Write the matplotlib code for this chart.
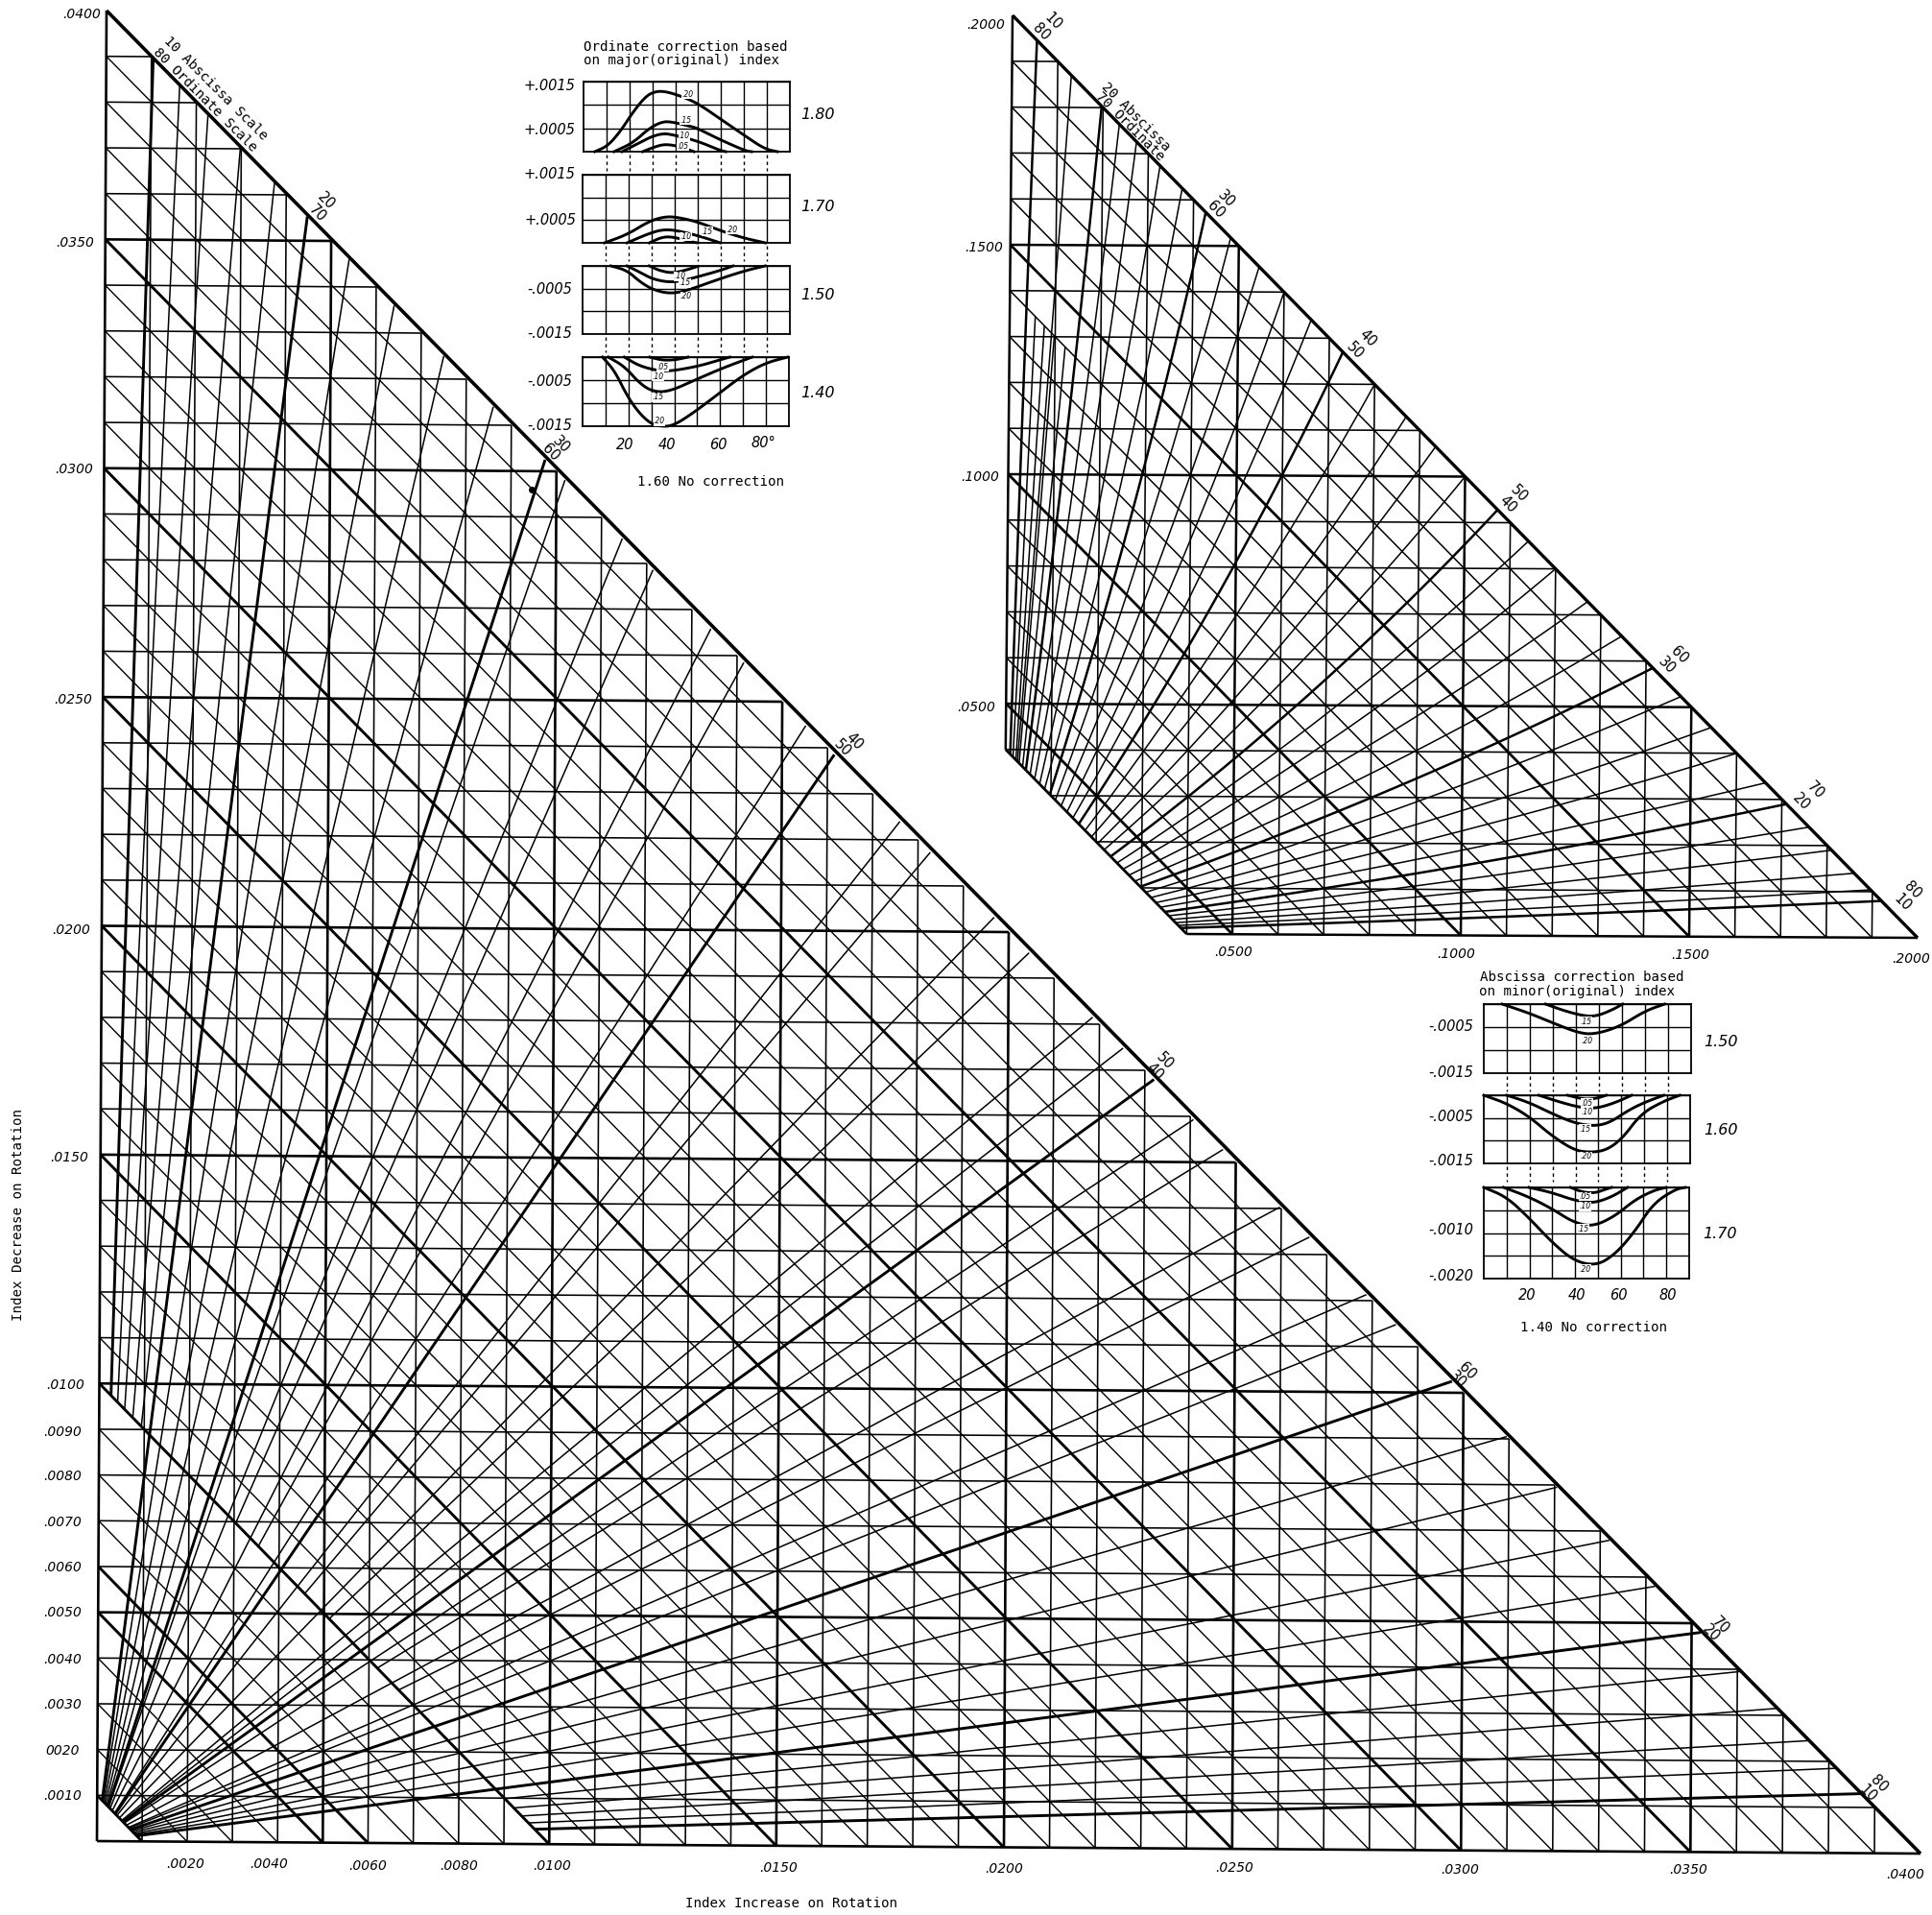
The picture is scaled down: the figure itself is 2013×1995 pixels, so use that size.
#!/usr/bin/env python3
"""Nomograms of index change on rotation, with correction curves, redrawn from a scan."""
import numpy as np
import matplotlib
matplotlib.use("Agg")
import matplotlib.pyplot as plt
from matplotlib.transforms import Transform

W, H = 2013, 1995
MONO = "DejaVu Sans Mono"

# large chart, values in units of .001
BIG_SPAN = 40
BIG_HEAVY_DIAG = [1, 5, 6, 10, 15, 20, 25, 30, 35, 40]
BIG_RAY_ANGLE = [10, 12, 14, 16, 18, 20, 22, 24, 26, 28, 30, 31, 33, 34, 36, 37, 39, 40,
                 41, 42, 44, 45, 47, 48, 50, 51, 52, 54, 55, 57, 58, 60, 62, 64, 66, 68, 70,
                 72, 74, 76, 78, 80]
BIG_RAY_END_X = [1.04, 1.63, 2.26, 2.98, 3.74, 4.47, 5.4, 6.4, 7.5, 8.6, 9.75, 10.19, 11.46,
                 12.14, 13.42, 14.15, 15.52, 16.15, 17.6, 18.27, 19.68, 20.45, 21.85, 22.52,
                 23.2, 24.07, 24.72, 25.97, 26.62, 27.87, 28.52, 29.75, 30.95, 32.05, 33.2, 34.2, 35.2,
                 36.05, 36.85, 37.55, 38.15, 38.7]
BIG_RAY_START = [10, 10, 10, 10, 10, 1, 1, 1, 1, 1, 1, 1, 1, 10, 1, 10, 1, 1, 1, 10, 1, 10, 1, 1,
                 1, 1, 10, 1, 10, 1, 1, 1, 1, 1, 1, 1, 1, 10, 10, 10, 10, 10]

# small chart, values in units of .01
RIGHT_SPAN = 20
RIGHT_CUT = 4
RIGHT_HEAVY_DIAG = [4, 5, 10, 15, 20]
RIGHT_RAY_ANGLE = [10, 12, 14, 15, 16, 18, 20, 22, 24, 26, 28, 30, 32, 34, 36, 38, 40, 42, 44, 46,
                   48, 50, 52, 54, 56, 58, 60, 62, 64, 66, 68, 70, 72, 74, 76, 78, 80]
RIGHT_RAY_TOP = [20, 14, 14, 20, 14, 14, 20, 20, 20, 20, 20, 20, 20, 20, 20, 20, 20, 20, 20, 20,
                 20, 20, 20, 20, 20, 20, 20, 20, 20, 20, 20, 20, 20, 20, 20, 20, 20]
RIGHT_X_START = [.10, .163, .226, .26, .298, .374, .447, .54, .64, .75, .86, .975, 1.098, 1.225,
                 1.355, 1.485, 1.615, 1.755, 1.895, 2.035, 2.175, 2.32, 2.46, 2.595, 2.725,
                 2.855, 2.975, 3.095, 3.21, 3.32, 3.42, 3.52, 3.605, 3.685, 3.755, 3.815, 3.87]
RIGHT_X_MID = [.31, .364, .49, .79, .645, .81, 1.26, 1.52, 1.78, 2.10, 2.42, 2.74, 3.09, 3.47,
               3.83, 4.21, 4.61, 5.03, 5.45, 5.86, 6.26, 6.70, 7.11, 7.49, 7.90, 8.32, 8.71,
               9.07, 9.45, 9.78, 10.12, 10.41, 10.69, 10.96, 11.21, 11.41, 11.56]
RIGHT_X_END = [.54, .56, .76, 1.30, .98, 1.22, 1.97, 2.36, 2.74, 3.26, 3.75, 4.27, 4.82, 5.45,
               6.0, 6.6, 7.3, 8.0, 8.7, 9.35, 10.0, 10.72, 11.4, 12.0, 12.71, 13.46, 14.15,
               14.77, 15.44, 16.0, 16.64, 17.1, 17.6, 18.1, 18.6, 18.96, 19.2]

# correction curves: (degrees, correction) read per curve
P180 = {
    ".20": ([4.9, 10.5, 16, 21.6, 27.2, 31.4, 35.6, 41.9, 49.6, 59.4, 69.8, 78.9, 84.5],
            [0, .00012, .00043, .00085, .00119, .00129, .00129, .0012, .00104, .00071, .00036, .00006, 0]),
    ".15": ([13.3, 21.6, 28.6, 34.2, 38.4, 46.8, 49.6, 59.4, 70.5, 73.3],
            [0, .00019, .0005, .00064, .00064, .00054, .0005, .00026, .00002, 0]),
    ".10": ([16.8, 24.4, 30, 34.9, 39.1, 49.6, 59.4, 62],
            [0, .00019, .00033, .00039, .00036, .00023, .00003, 0]),
    ".05": ([25.8, 31.4, 35.6, 41.2, 48.2], [0, .00011, .00016, .00012, 0]),
}
P170 = {
    ".20": ([9.5, 19.3, 29, 36, 41.6, 50, 59.8, 69.6, 79.3],
            [0, .00018, .00048, .00058, .00056, .00046, .00027, .00011, 0]),
    ".15": ([19.3, 29, 34.6, 40.2, 50, 59.8], [0, .00021, .00029, .00028, .00016, 0]),
    ".10": ([29, 34.6, 39.5, 47.2, 50], [0, .00013, .00013, .00002, 0]),
}
P150 = {
    ".20": ([12.3, 19.3, 24.9, 30.4, 37.4, 44.4, 59.8, 71, 79.3],
            [0, -.0001, -.00035, -.00052, -.00061, -.00056, -.00028, -.0001, 0]),
    ".15": ([19.3, 24.9, 30.4, 37.4, 43, 50, 59.8, 65.4],
            [0, -.00014, -.00029, -.00036, -.00033, -.00024, -.0001, 0]),
    ".10": ([29, 33.2, 38.8, 44.4, 50], [0, -.0001, -.00016, -.0001, -.00001]),
}
P140 = {
    ".20": ([8.7, 14, 19.6, 25.1, 30, 33.5, 39.1, 47.5, 58.7, 69.8, 79.6, 89.4],
            [0, -.0003, -.00086, -.00124, -.00145, -.0015, -.0015, -.00124, -.00082, -.0004, -.00013, 0]),
    ".15": ([11.2, 18.2, 25.1, 30.7, 37.7, 50.3, 61.5, 74],
            [0, -.0002, -.00058, -.00075, -.00075, -.00047, -.00023, 0]),
    ".10": ([18.2, 25.1, 33.5, 39, 50.3, 60, 64.2], [0, -.0002, -.0003, -.0003, -.0002, -.00006, 0]),
    ".05": ([29.3, 34.9, 40.5, 46], [0, -.00007, -.00006, 0]),
}
A150 = {
    ".20": ([8, 19.8, 31, 40.8, 47.8, 59, 70, 78.5],
            [0, -.0002, -.00043, -.00062, -.00066, -.00049, -.00015, 0]),
    ".15": ([26.8, 35.2, 43.6, 49.2, 56, 60.3], [0, -.00015, -.00026, -.00026, -.00012, 0]),
}
A160 = {
    ".20": ([0, 10, 19.8, 29.6, 39.4, 46.4, 53.4, 60.3, 68.7, 78.5, 85.5],
            [0, -.00018, -.00047, -.00089, -.00121, -.00126, -.00121, -.00096, -.0004, -.00013, 0]),
    ".15": ([10, 19.8, 29.6, 39.4, 47.8, 54.7, 63.1, 70, 78.5],
            [0, -.00016, -.0004, -.00061, -.00068, -.00061, -.00033, -.00016, 0]),
    ".10": ([24, 33.8, 42.2, 49.2, 57.5, 64.5], [0, -.00016, -.00027, -.00029, -.00016, 0]),
    ".05": ([36.6, 43.6, 49.2, 53.4], [0, -.00009, -.00007, 0]),
}
A170 = {
    ".20": ([0, 10, 19.8, 29.6, 39.4, 49.2, 57.5, 66, 74.3, 84, 88.3],
            [0, -.00021, -.00067, -.00119, -.00161, -.00172, -.00147, -.00098, -.00035, -.00004, 0]),
    ".15": ([8.7, 19.8, 29.6, 39.4, 47.8, 57.5, 66, 74.3, 79.9],
            [0, -.00021, -.00046, -.00077, -.00086, -.00063, -.00028, -.00007, 0]),
    ".10": ([19.8, 29.6, 39.4, 47.8, 56, 63], [0, -.00011, -.00028, -.00035, -.00021, 0]),
    ".05": ([38, 43.6, 49, 53.4, 56], [0, -.00011, -.00012, -.00004, 0]),
}

# panel: left, right, top, bottom (pixels), y limits, curves, curve label spots
PANELS = [
    (608, 823, 85, 158, (0, .0015), P180,
     {".20": (45.4, .00122), ".15": (44.7, .00067), ".10": (44, .00033), ".05": (43.3, .00011)}),
    (607, 823, 182, 253, (0, .0015), P170,
     {".20": (64.7, .00029), ".15": (54.2, .00025), ".10": (44.8, .00014)}),
    (607, 823, 277, 348, (-.0015, 0), P150,
     {".10": (42.3, -.00023), ".15": (44.4, -.00038), ".20": (45, -.00067)}),
    (607, 822, 372, 444, (-.0015, 0), P140,
     {".05": (34.9, -.00022), ".10": (32.8, -.00042), ".15": (32.8, -.00087), ".20": (33.5, -.00139)}),
    (1546, 1762, 1046, 1118, (-.0015, 0), A150, {".15": (44.3, -.00038), ".20": (45, -.0008)}),
    (1546, 1761, 1141, 1212, (-.0015, 0), A160,
     {".05": (45, -.00017), ".10": (45, -.00038), ".15": (44.3, -.00074), ".20": (44.5, -.00135)}),
    (1546, 1760, 1237, 1332, (-.002, 0), A170,
     {".05": (44.3, -.0002), ".10": (44.3, -.00042), ".15": (43.6, -.00091), ".20": (44.3, -.00179)}),
]
PANEL_DASHED = [True, True, True, False, True, True, False]

LEFT_LABELS = [(".0400", 85, 15), (".0350", 78, 253), (".0300", 77, 489), (".0250", 76, 729),
               (".0200", 74, 969), (".0150", 72, 1206), (".0100", 68, 1443), (".0090", 65, 1492),
               (".0080", 65, 1538), (".0070", 65, 1586), (".0060", 65, 1633), (".0050", 65, 1680),
               (".0040", 65, 1729), (".0030", 65, 1776), ("0020", 65, 1824), (".0010", 65, 1871),
               (".2000", 1027, 26), (".1500", 1025, 258), (".1000", 1021, 497), (".0500", 1017, 737)]
BOTTOM_LABELS = [(".0020", 193, 1942), (".0040", 280, 1942), (".0060", 383, 1944), (".0080", 478, 1944),
                 (".0100", 575, 1944), (".0150", 811, 1946), (".0200", 1046, 1947), (".0250", 1286, 1946),
                 (".0300", 1521, 1948), (".0350", 1759, 1948), (".0400", 1985, 1953),
                 (".0500", 1285, 992), (".1000", 1517, 994), (".1500", 1761, 995), (".2000", 1991, 999)]
EDGE_LABELS = [("20", 340, 209), ("70", 331, 222), ("30", 585, 463), ("60", 574, 471),
               ("40", 890, 772), ("50", 878, 779), ("50", 1214, 1105), ("40", 1203, 1116),
               ("60", 1529, 1428), ("30", 1519, 1437), ("70", 1793, 1693), ("20", 1783, 1701),
               ("80", 1958, 1858), ("10", 1946, 1868),
               ("10", 1097, 22), ("80", 1085, 33), ("30", 1278, 207), ("60", 1267, 218),
               ("40", 1425, 352), ("50", 1412, 365), ("50", 1583, 514), ("40", 1571, 525),
               ("60", 1750, 682), ("30", 1737, 693), ("70", 1892, 823), ("20", 1877, 835),
               ("80", 1993, 927), ("10", 1982, 940)]
EDGE_TITLES = [("10 Abscissa Scale", 225, 92), ("80 Ordinate Scale", 214, 104),
               ("20 Abscissa", 1183, 122), ("70 Ordinate", 1177, 132)]
PANEL_TICKS = [("+.0015", 572, 89), ("+.0005", 572, 135), ("+.0015", 572, 182), ("+.0005", 573, 230),
               ("-.0005", 573, 302), ("-.0015", 573, 348), ("-.0005", 573, 397), ("-.0015", 573, 443),
               ("-.0005", 1512, 1070), ("-.0015", 1512, 1117), ("-.0005", 1512, 1163), ("-.0015", 1512, 1209),
               ("-.0010", 1512, 1282), ("-.0020", 1512, 1329),
               ("20", 651, 463), ("40", 695, 463), ("60", 748, 463), ("80°", 795, 461),
               ("20", 1591, 1349), ("40", 1643, 1349), ("60", 1686, 1349), ("80", 1738, 1349)]
PANEL_SIDE = [("1.80", 852, 120), ("1.70", 852, 215), ("1.50", 852, 307), ("1.40", 852, 410),
              ("1.50", 1793, 1085), ("1.60", 1793, 1177), ("1.70", 1792, 1285)]
NOTES = [("Ordinate correction based", 714, 49), ("on major(original) index", 710, 63),
         ("1.60 No correction", 740, 502), ("Abscissa correction based", 1648, 1018),
         ("on minor(original) index", 1643, 1033), ("1.40 No correction", 1660, 1383)]


class ScanWarp(Transform):
    """Chart units to scan pixels: the scan is a little sheared and bowed."""
    input_dims = 2
    output_dims = 2

    def __init__(self, origin, x_end, y_end, span, bow=0.0):
        super().__init__()
        self.origin = np.array(origin, float)
        self.ex = (np.array(x_end, float) - self.origin) / span
        self.ey = (np.array(y_end, float) - self.origin) / span
        self.span = span
        self.bow = bow

    def transform_non_affine(self, values):
        values = np.asarray(values, float)
        x, y = values[:, 0], values[:, 1]
        out = self.origin + np.outer(x, self.ex) + np.outer(y, self.ey)
        out[:, 0] -= self.bow * x * (self.span - x)
        return out


def round_corners(deg, val, passes=3):
    """Corner cutting so the read points draw as a pen curve, ends kept."""
    pts = np.column_stack([deg, val])
    for _ in range(passes):
        q = 0.75 * pts[:-1] + 0.25 * pts[1:]
        r = 0.25 * pts[:-1] + 0.75 * pts[1:]
        mid = np.empty((2 * len(q), 2))
        mid[0::2], mid[1::2] = q, r
        pts = np.vstack([pts[:1], mid, pts[-1:]])
    return pts[:, 0], pts[:, 1]


def draw_big(ax, warp):
    trans = warp + ax.transData
    kw = dict(color="black", transform=trans, solid_capstyle="butt")
    for k in range(BIG_SPAN):
        lw = 1.9 if k % 5 == 0 else 1.15
        ax.plot([0, BIG_SPAN - k], [k, k], lw=lw, **kw)
        ax.plot([k, k], [0, BIG_SPAN - k], lw=lw, **kw)
    for k in range(1, BIG_SPAN + 1):
        lw = 2.1 if k in BIG_HEAVY_DIAG else 1.0
        if k == BIG_SPAN:
            lw = 2.6
        ax.plot([0, k], [k, 0], lw=lw, **kw)
    for angle, end_x, start in zip(BIG_RAY_ANGLE, BIG_RAY_END_X, BIG_RAY_START):
        r = end_x / BIG_SPAN
        lw = 2.1 if angle % 10 == 0 else 1.1
        ax.plot([r * start, end_x], [start - r * start, BIG_SPAN - end_x], lw=lw, **kw)
    ax.plot([9.45], [29.6], "o", ms=4, color="black", transform=trans)


def draw_right(ax, warp):
    trans = warp + ax.transData
    kw = dict(color="black", transform=trans, solid_capstyle="butt")
    for k in range(RIGHT_SPAN):
        lw = 1.8 if k % 5 == 0 else 1.15
        low = max(0, RIGHT_CUT - k)
        ax.plot([low, RIGHT_SPAN - k], [k, k], lw=lw, **kw)
        ax.plot([k, k], [low, RIGHT_SPAN - k], lw=lw, **kw)
    for k in range(RIGHT_CUT, RIGHT_SPAN + 1):
        lw = 2.0 if k in RIGHT_HEAVY_DIAG else 1.1
        if k == RIGHT_SPAN:
            lw = 2.4
        ax.plot([0, k], [k, 0], lw=lw, **kw)
    for i, angle in enumerate(RIGHT_RAY_ANGLE):
        top = RIGHT_RAY_TOP[i]
        d_read = [RIGHT_CUT, (RIGHT_CUT + top) / 2, top]
        x_read = [RIGHT_X_START[i], RIGHT_X_MID[i], RIGHT_X_END[i]]
        coef = np.polyfit(d_read, x_read, 2)
        d = np.linspace(RIGHT_CUT, top, 30)
        x = np.polyval(coef, d)
        lw = 1.8 if angle % 10 == 0 else 1.1
        ax.plot(x, d - x, lw=lw, **kw)


def draw_panel(fig, spec, dashed):
    left, right, top, bottom, ylim, curves, spots = spec
    ax = fig.add_axes([left / W, 1 - bottom / H, (right - left) / W, (bottom - top) / H])
    ax.set_xlim(0, 90)
    ax.set_ylim(*ylim)
    ax.set_xticks(np.arange(10, 90, 10))
    ax.set_yticks(np.arange(ylim[0], ylim[1] + 1e-9, .0005))
    ax.grid(True, color="black", lw=1.0)
    ax.tick_params(length=0, labelbottom=False, labelleft=False)
    for spine in ax.spines.values():
        spine.set_linewidth(1.3)
    for name, (deg, val) in curves.items():
        ax.plot(*round_corners(deg, val), color="black", lw=2.1, clip_on=False, zorder=3)
    for name, (sx, sy) in spots.items():
        ax.text(sx, sy, name, fontsize=5.5, style="italic", ha="center", va="center", zorder=4,
                bbox=dict(fc="white", ec="none", pad=0.2))
    if dashed:
        for deg in ax.get_xticks():
            ax.plot([deg, deg], [-0.04, -0.27], color="black", lw=1.0, ls=(0, (2.5, 2.5)),
                    transform=ax.get_xaxis_transform(), clip_on=False)


def main():
    fig = plt.figure(figsize=(W / 100, H / 100), dpi=100)
    ax = fig.add_axes([0, 0, 1, 1])
    ax.set_xlim(0, W)
    ax.set_ylim(H, 0)
    ax.axis("off")

    draw_big(ax, ScanWarp((101, 1918), (2001, 1931), (111, 11), BIG_SPAN, bow=0.0125))
    draw_right(ax, ScanWarp((1046, 972), (1998, 977), (1055, 16), RIGHT_SPAN))

    for spec, dashed in zip(PANELS, PANEL_DASHED):
        draw_panel(fig, spec, dashed)

    for text, x, y in LEFT_LABELS + BOTTOM_LABELS:
        ax.text(x, y, text, fontsize=10, style="italic", ha="center", va="center")
    for text, x, y in EDGE_LABELS:
        ax.text(x, y, text, fontsize=10.5, rotation=-45, ha="center", va="center", rotation_mode="anchor")
    for text, x, y in EDGE_TITLES:
        ax.text(x, y, text, fontsize=10.3, family=MONO, rotation=-45, ha="center", va="center",
                rotation_mode="anchor")
    for text, x, y in PANEL_TICKS:
        ax.text(x, y, text, fontsize=10.5, style="italic", ha="center", va="center")
    for text, x, y in PANEL_SIDE:
        ax.text(x, y, text, fontsize=11.5, style="italic", ha="center", va="center")
    for text, x, y in NOTES:
        ax.text(x, y, text, fontsize=10.2, family=MONO, ha="center", va="center")
    ax.text(19, 1265, "Index Decrease on Rotation", fontsize=10.2, family=MONO, rotation=90,
            ha="center", va="center")
    ax.text(824, 1983, "Index Increase on Rotation", fontsize=10.2, family=MONO,
            ha="center", va="center")

    fig.savefig("out.png", dpi=100, facecolor="white")
    print("Saved figure to out.png")


if __name__ == "__main__":
    main()
